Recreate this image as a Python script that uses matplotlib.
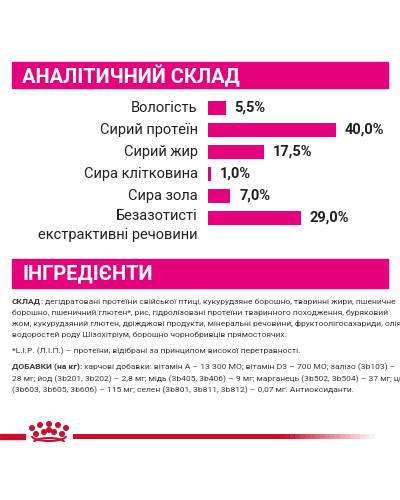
import matplotlib.pyplot as plt
import numpy as np
from matplotlib.patches import Rectangle, Circle, Arc

plt.rcParams['font.family'] = ['Roboto', 'DejaVu Sans']

categories = ['Вологість', 'Сирий протеїн', 'Сирий жир', 'Сира клітковина',
              'Сира зола', 'Безазотисті\nекстрактивні речовини']
values = [5.5, 40.0, 17.5, 1.0, 7.0, 29.0]
value_labels = ['5,5%', '40,0%', '17,5%', '1,0%', '7,0%', '29,0%']

pink = '#E5007E'
grey = '#3a3a3a'
red = '#C8102E'

fig = plt.figure(figsize=(4, 5), dpi=100)
bg = fig.add_axes([0, 0, 1, 1])
bg.set_xlim(0, 400)
bg.set_ylim(500, 0)
bg.axis('off')

# header bands
bg.add_patch(Rectangle((12, 62), 376, 26, color=pink))
bg.text(22, 76, 'АНАЛІТИЧНИЙ СКЛАД', color='white', fontsize=14.5, fontweight='bold',
        va='center', ha='left')
bg.add_patch(Rectangle((12, 259), 376, 29, color=pink))
bg.text(22, 274, 'ІНГРЕДІЄНТИ', color='white', fontsize=14.5, fontweight='bold',
        va='center', ha='left')

# bar chart
bx = fig.add_axes([208 / 400, 1 - 229 / 500, 180 / 400, 132 / 500])
y = np.arange(len(values))
bx.barh(y, values, height=0.6, color=pink)
bx.set_xlim(0, 180 / 3.2)
bx.set_ylim(len(values) - 0.5, -0.5)
bx.axis('off')
for i, (v, lab) in enumerate(zip(values, value_labels)):
    bx.text(v + 2.8, i, lab, fontsize=10.5, fontweight='bold', color='#222222',
            va='center', ha='left')
for i, c in enumerate(categories):
    if '\n' in c:
        bx.text(-3.2, i - 0.1, c.split('\n')[0], fontsize=10.5, color='#222222', va='center', ha='right')
        bx.text(-3.2, i + 0.75, c.split('\n')[1], fontsize=10.5, color='#222222', va='center', ha='right')
    else:
        bx.text(-3.2, i, c, fontsize=10.5, color='#222222', va='center', ha='right')

# ingredients text
fs = 6.1
def line(yy, bold, rest):
    if bold:
        t = bg.text(12, yy, bold, fontsize=fs, fontweight='bold', color=grey, va='baseline')
        bg.annotate(rest, xy=(1, 0), xycoords=t, fontsize=fs, color=grey, va='bottom')
    else:
        bg.text(12, yy, rest, fontsize=fs, color=grey, va='baseline')

line(304, 'СКЛАД', ': дегідратовані протеїни свійської птиці, кукурудзяне борошно, тваринні жири, пшеничне')
line(315, None, 'борошно, пшеничний глютен*, рис, гідролізовані протеїни тваринного походження, буряковий')
line(326, None, 'жом, кукурудзяний глютен, дріжджові продукти, мінеральні речовини, фруктоолігосахариди, олія')
line(337, None, 'водоростей роду Шізохітріум, борошно чорнобривців прямостоячих.')
line(353, None, '*L.I.P. (Л.І.П.) – протеїни, відібрані за принципом високої перетравності.')
line(369, 'ДОБАВКИ (на кг):', ' харчові добавки: вітамін А – 13 300 МО; вітамін D3 – 700 МО; залізо (3b103) –')
line(381, None, '28 мг; йод (3b201, 3b202) – 2,8 мг; мідь (3b405, 3b406) – 9 мг; марганець (3b502, 3b504) – 37 мг; цинк')
line(392, None, '(3b603, 3b605, 3b606) – 115 мг; селен (3b801, 3b811, 3b812) – 0,07 мг. Антиоксиданти.')

# logo and red line
bg.add_patch(Rectangle((0, 434), 25, 5, color=red))
n = 60
xs = np.linspace(73, 375, n + 1)
for k in range(n):
    a = 1.0 if xs[k] < 280 else max(0.05, 1 - (xs[k] - 280) / 95)
    bg.add_patch(Rectangle((xs[k], 434), xs[k + 1] - xs[k] + 0.3, 5, color=red, alpha=a, lw=0))
for cx, cy in [(32, 428), (40, 425), (49, 424), (58, 425), (66, 428),
               (36, 434), (44, 432), (54, 432), (62, 434), (49, 430)]:
    bg.add_patch(Circle((cx, cy), 2.3, color=red))
bg.add_patch(Arc((49, 436), 34, 10, theta1=0, theta2=180, color=red, lw=1.5))
bg.add_patch(Arc((49, 442), 30, 8, theta1=180, theta2=360, color=red, lw=1.5))

fig.savefig('out.png', dpi=100)
